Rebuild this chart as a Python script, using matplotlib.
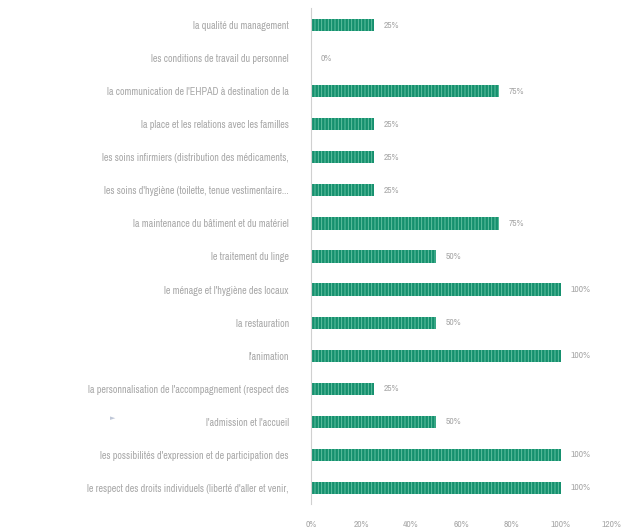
import numpy as np
import matplotlib.pyplot as plt
from matplotlib import font_manager

# Survey items, top to bottom
labels = [
    "la qualité du management",
    "les conditions de travail du personnel",
    "la communication de l'EHPAD à destination de la",
    "la place et les relations avec les familles",
    "les soins infirmiers (distribution des médicaments,",
    "les soins d'hygiène (toilette, tenue vestimentaire...",
    "la maintenance du bâtiment et du matériel",
    "le traitement du linge",
    "le ménage et l'hygiène des locaux",
    "la restauration",
    "l'animation",
    "la personnalisation de l'accompagnement (respect des",
    "l'admission et l'accueil",
    "les possibilités d'expression et de participation des",
    "le respect des droits individuels (liberté d'aller et venir,",
]
values = [25, 0, 75, 25, 25, 25, 75, 50, 100, 50, 100, 25, 50, 100, 100]
xticks = [0, 20, 40, 60, 80, 100, 120]

# prefer a narrow face when one is installed
names = sorted({f.name for f in font_manager.fontManager.ttflist})
narrow = [n for n in names if 'Narrow' in n or 'Condensed' in n]
if narrow:
    FONT = [narrow[0], 'DejaVu Sans']
    LBL_SIZE = 7.3
else:
    FONT = ['Liberation Sans', 'DejaVu Sans']
    LBL_SIZE = 6.0

GREY = '#a8a8a8'
TEAL = '#15906e'

plt.rcParams['hatch.linewidth'] = 0.6

fig = plt.figure(figsize=(6.22, 5.32), dpi=100)
ax = fig.add_axes([311 / 622, 1 - 504.5 / 532, 300 / 622, 496 / 532])

y = np.arange(len(labels))
ax.barh(y, values, height=0.37, color=TEAL, edgecolor='#6cc7a8',
        linewidth=0, hatch='|||||')

for yi, v in zip(y, values):
    ax.text(v + 4, yi, f"{v}%", va='center', ha='left',
            fontsize=6.8, color=GREY, family=FONT)

ax.set_xlim(0, 120)
ax.set_ylim(len(labels) - 0.5, -0.5)
ax.set_yticks(y)
ax.set_yticklabels(labels, family=FONT, fontsize=LBL_SIZE, color=GREY)
ax.set_xticks(xticks)
ax.set_xticklabels([f"{t}%" for t in xticks], family=FONT,
                   fontsize=6.8, color=GREY)

ax.tick_params(axis='y', length=0, pad=16)
ax.tick_params(axis='x', length=0, pad=11)
for side in ('top', 'right', 'bottom'):
    ax.spines[side].set_visible(False)
ax.spines['left'].set_color('#d0d0d0')
ax.spines['left'].set_linewidth(0.8)

# small marker left of the admission label
fig.text(113 / 622, 1 - 418 / 532, "►", fontsize=5, color='#c0c8d8',
         ha='center', va='center', family=['DejaVu Sans'])

fig.savefig('out.png', dpi=100)
